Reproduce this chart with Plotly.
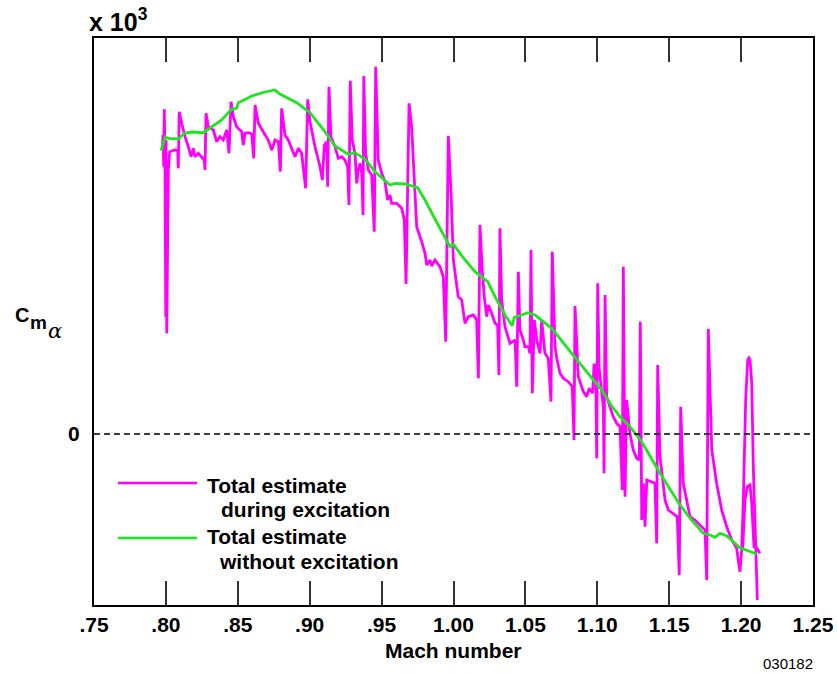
import plotly.graph_objects as go

# ---- data (Mach number, Cm_alpha x 10^3 in arbitrary chart units) ----
mach_total = [0.7975, 0.7980, 0.7985, 0.7989, 0.7994, 0.7996, 0.7999, 0.8001, 0.8006, 0.8017,
              0.8026, 0.8063, 0.8082, 0.8086, 0.8093, 0.8110, 0.8133, 0.8156, 0.8175, 0.8191,
              0.8202, 0.8225, 0.8249, 0.8267, 0.8272, 0.8279, 0.8295, 0.8330, 0.8353, 0.8376,
              0.8399, 0.8423, 0.8439, 0.8453, 0.8469, 0.8492, 0.8527, 0.8538, 0.8550, 0.8573,
              0.8597, 0.8611, 0.8620, 0.8643, 0.8677, 0.8712, 0.8736, 0.8759, 0.8782, 0.8796,
              0.8805, 0.8828, 0.8851, 0.8875, 0.8898, 0.8921, 0.8944, 0.8972, 0.8986, 0.9002,
              0.9037, 0.9072, 0.9088, 0.9102, 0.9118, 0.9125, 0.9134, 0.9148, 0.9176, 0.9199,
              0.9223, 0.9245, 0.9264, 0.9273, 0.9282, 0.9296, 0.9315, 0.9327, 0.9338, 0.9350,
              0.9362, 0.9371, 0.9376, 0.9389, 0.9408, 0.9431, 0.9449, 0.9459, 0.9477, 0.9501,
              0.9524, 0.9542, 0.9558, 0.9570, 0.9605, 0.9640, 0.9658, 0.9670, 0.9691, 0.9709,
              0.9732, 0.9744, 0.9779, 0.9802, 0.9814, 0.9837, 0.9848, 0.9871, 0.9906, 0.9929,
              0.9946, 0.9964, 0.9983, 0.9999, 1.0033, 1.0057, 1.0080, 1.0103, 1.0138, 1.0161,
              1.0173, 1.0184, 1.0200, 1.0214, 1.0231, 1.0242, 1.0266, 1.0289, 1.0307, 1.0316,
              1.0323, 1.0335, 1.0358, 1.0381, 1.0393, 1.0428, 1.0440, 1.0451, 1.0462, 1.0485,
              1.0497, 1.0520, 1.0532, 1.0539, 1.0548, 1.0562, 1.0579, 1.0602, 1.0613, 1.0636,
              1.0659, 1.0678, 1.0687, 1.0706, 1.0718, 1.0741, 1.0764, 1.0798, 1.0826, 1.0838,
              1.0845, 1.0868, 1.0903, 1.0926, 1.0944, 1.0968, 1.0977, 1.0989, 1.0996, 1.1003,
              1.1012, 1.1031, 1.1042, 1.1047, 1.1054, 1.1065, 1.1088, 1.1111, 1.1135, 1.1158,
              1.1174, 1.1181, 1.1193, 1.1204, 1.1227, 1.1250, 1.1274, 1.1292, 1.1299, 1.1309,
              1.1320, 1.1332, 1.1344, 1.1378, 1.1401, 1.1413, 1.1420, 1.1436, 1.1471, 1.1494,
              1.1529, 1.1556, 1.1570, 1.1580, 1.1598, 1.1622, 1.1645, 1.1679, 1.1726, 1.1749,
              1.1761, 1.1772, 1.1796, 1.1830, 1.1865, 1.1900, 1.1935, 1.1969, 1.1992, 1.2004,
              1.2015, 1.2032, 1.2046, 1.2054, 1.2062, 1.2074, 1.2085, 1.2097, 1.2113,
              None,
              1.2011, 1.2027, 1.2043, 1.2062, 1.2074, 1.2090, 1.2108, 1.2131]
cm_total = [2.84, 2.99, 2.673, 3.247, 2.673, 1.473, 1.173, 2.94, 1.007, 2.64,
            2.823, 2.84, 2.833, 2.657, 3.223, 3.107, 2.973, 2.873, 2.773, 2.857,
            2.773, 2.807, 2.773, 2.74, 2.64, 3.207, 3.073, 3.04, 2.923, 2.973,
            2.94, 3.04, 2.807, 3.323, 3.173, 3.073, 3.023, 2.89, 3.007, 3.013,
            3.00, 2.757, 3.29, 3.107, 3.023, 2.94, 2.84, 2.94, 2.923, 2.623,
            3.257, 2.99, 2.94, 2.857, 2.773, 2.857, 2.807, 2.457, 3.347, 3.123,
            2.873, 2.673, 2.54, 2.89, 2.923, 2.473, 3.473, 2.973, 2.873, 2.757,
            2.773, 2.74, 2.673, 2.29, 3.533, 2.94, 2.807, 2.507, 2.64, 2.707,
            2.607, 2.19, 3.58, 2.807, 2.64, 2.59, 2.023, 3.673, 2.74, 2.607,
            2.523, 2.34, 2.39, 2.307, 2.307, 2.257, 2.14, 1.50, 3.307, 3.073,
            2.407, 2.073, 1.923, 1.807, 1.69, 1.74, 1.68, 1.74, 1.673, 1.573,
            0.923, 2.98, 2.407, 1.74, 1.373, 1.34, 1.107, 1.173, 1.19, 1.14,
            0.557, 2.09, 1.64, 1.373, 1.173, 1.29, 1.207, 1.107, 1.09, 0.59,
            2.057, 1.34, 1.073, 0.973, 0.907, 0.94, 0.473, 1.623, 1.04, 0.94,
            0.873, 0.873, 0.807, 1.84, 0.407, 1.14, 0.94, 0.807, 1.14, 0.807,
            0.757, 0.323, 1.823, 0.873, 0.757, 0.607, 0.557, 0.523, 0.473, -0.06,
            1.28, 0.573, 0.423, 0.373, 0.457, 0.407, 0.69, 0.69, -0.243, 1.507,
            0.673, 0.407, 0.273, -0.393, 1.39, 0.373, 0.273, 0.173, 0.107, 0.073,
            -0.56, 1.673, -0.627, 0.34, 0.007, -0.16, -0.243, -0.26, 1.123, -0.86,
            -0.493, -0.927, -0.46, -0.477, -0.493, -1.093, 0.69, -0.227, -0.66, -0.76,
            -0.793, -0.827, -1.41, 0.273, -0.493, -0.66, -0.827, -0.86, -0.927, -0.96,
            -1.46, 1.05, -0.16, -0.493, -0.76, -0.927, -1.06, -1.143, -1.377, -1.16,
            -0.693, 0.34, 0.74, 0.76, 0.74, 0.507, -0.327, -0.993, -1.66,
            None,
            -1.16, -0.66, -0.527, -0.51, -0.693, -1.127, -1.137, -1.193]

mach_noexc = [0.7966, 0.7994, 0.8017, 0.8086, 0.8128, 0.8179, 0.8260, 0.8319, 0.8388, 0.8458,
              0.8492, 0.8504, 0.8597, 0.8689, 0.8759, 0.8793, 0.8910, 0.9002, 0.9106, 0.9176,
              0.9268, 0.9315, 0.9385, 0.9454, 0.9524, 0.9558, 0.9593, 0.9663, 0.9751, 0.9802,
              0.9860, 0.9929, 0.9976, 0.9999, 1.0080, 1.0150, 1.0219, 1.0238, 1.0289, 1.0358,
              1.0409, 1.0423, 1.0474, 1.0516, 1.0567, 1.0683, 1.0822, 1.0937, 1.1031, 1.1100,
              1.1158, 1.1227, 1.1309, 1.1436, 1.1575, 1.1656, 1.1737, 1.1784, 1.1818, 1.1853,
              1.1900, 1.1992, 1.2039, 1.2108]
cm_noexc = [2.833, 2.97, 2.957, 2.95, 3.007, 3.02, 3.013, 3.073, 3.14, 3.25,
            3.257, 3.313, 3.38, 3.42, 3.44, 3.40, 3.313, 3.213, 3.023, 2.88,
            2.797, 2.813, 2.747, 2.623, 2.54, 2.49, 2.507, 2.50, 2.463, 2.34,
            2.18, 1.99, 1.873, 1.897, 1.74, 1.623, 1.54, 1.523, 1.373, 1.19,
            1.083, 1.167, 1.19, 1.213, 1.19, 1.057, 0.807, 0.607, 0.44, 0.28,
            0.173, 0.073, -0.077, -0.393, -0.71, -0.86, -0.993, -1.01, -1.033, -0.993,
            -1.02, -1.137, -1.16, -1.20]

x_tickvals = [0.75, 0.80, 0.85, 0.90, 0.95, 1.00, 1.05, 1.10, 1.15, 1.20, 1.25]
x_ticktext = [".75", ".80", ".85", ".90", ".95", "1.00", "1.05", "1.10", "1.15", "1.20", "1.25"]

MAGENTA = "#ff00ff"
GREEN = "#1ee61e"
FONT = "Liberation Sans, Arial, Helvetica, sans-serif"

fig = go.Figure()
fig.add_trace(go.Scatter(x=mach_total, y=cm_total, mode="lines",
                         line=dict(color=MAGENTA, width=2.8), connectgaps=False,
                         name="Total estimate during excitation", showlegend=False))
fig.add_trace(go.Scatter(x=mach_noexc, y=cm_noexc, mode="lines",
                         line=dict(color=GREEN, width=2.8),
                         name="Total estimate without excitation", showlegend=False))

# zero reference line
fig.add_shape(type="line", xref="paper", yref="y", x0=0, x1=1, y0=0, y1=0,
              line=dict(color="black", width=1.3, dash="6px,4px"))

# manual legend
fig.add_shape(type="line", xref="paper", yref="paper", x0=0.0334, x1=0.1433, y0=0.2152, y1=0.2152,
              line=dict(color=MAGENTA, width=2.6))
fig.add_shape(type="line", xref="paper", yref="paper", x0=0.0334, x1=0.1433, y0=0.1182, y1=0.1182,
              line=dict(color=GREEN, width=2.6))

bold = dict(family=FONT, size=21, color="black", weight="bold")
legend_lines = [
    ("Total estimate", 0.1545, 0.2116),
    ("during excitation", 0.1735, 0.1693),
    ("Total estimate", 0.1545, 0.1200),
    ("without excitation", 0.1705, 0.0776),
]
for txt, xp, yp in legend_lines:
    fig.add_annotation(text=txt, xref="paper", yref="paper", x=xp, y=yp,
                       xanchor="left", yanchor="middle", showarrow=False, font=bold)

# axis annotations
fig.add_annotation(text="x 10<sup>3</sup>", xref="paper", yref="paper", x=-0.01, y=1.032,
                   xanchor="left", yanchor="middle", showarrow=False,
                   font=dict(family=FONT, size=25, color="black", weight="bold"))
fig.add_annotation(text="C", xref="paper", yref="paper", x=-0.1127, y=0.5115,
                   xanchor="left", yanchor="middle", showarrow=False,
                   font=dict(family=FONT, size=20, color="black", weight="bold"))
fig.add_annotation(text="m", xref="paper", yref="paper", x=-0.0918, y=0.4974,
                   xanchor="left", yanchor="middle", showarrow=False,
                   font=dict(family=FONT, size=19, color="black", weight="bold"))
fig.add_annotation(text="α", xref="paper", yref="paper", x=-0.0668, y=0.4832,
                   xanchor="left", yanchor="middle", showarrow=False,
                   font=dict(family="DejaVu Serif, serif", size=21, color="black", style="italic"))
fig.add_annotation(text="Mach number", xref="paper", yref="paper", x=0.5, y=-0.081,
                   xanchor="center", yanchor="middle", showarrow=False,
                   font=dict(family=FONT, size=21, color="black", weight="bold"))
fig.add_annotation(text="030182", xref="paper", yref="paper", x=1.003, y=-0.103,
                   xanchor="right", yanchor="middle", showarrow=False,
                   font=dict(family=FONT, size=15, color="black"))

fig.update_layout(
    width=837, height=673,
    margin=dict(l=94, r=24, t=38, b=68, pad=0, autoexpand=False),
    paper_bgcolor="white", plot_bgcolor="white",
    showlegend=False,
    xaxis=dict(range=[0.75, 1.25], tickvals=x_tickvals, ticktext=x_ticktext,
               ticks="inside", ticklen=24, tickwidth=1.5, tickcolor="#333333",
               showline=True, linewidth=2, linecolor="black", mirror="ticks",
               showgrid=False, zeroline=False, automargin=False,
               ticklabeloverflow="allow",
               tickfont=dict(family=FONT, size=21, color="black", weight="bold")),
    yaxis=dict(range=[-1.71, 3.96], tickvals=[0], ticktext=["0"], ticks="",
               showline=True, linewidth=2, linecolor="black", mirror=True,
               showgrid=False, zeroline=False, ticklabelstandoff=8, automargin=False,
               tickfont=dict(family=FONT, size=21, color="black", weight="bold")),
)

fig.write_html("out.html")
